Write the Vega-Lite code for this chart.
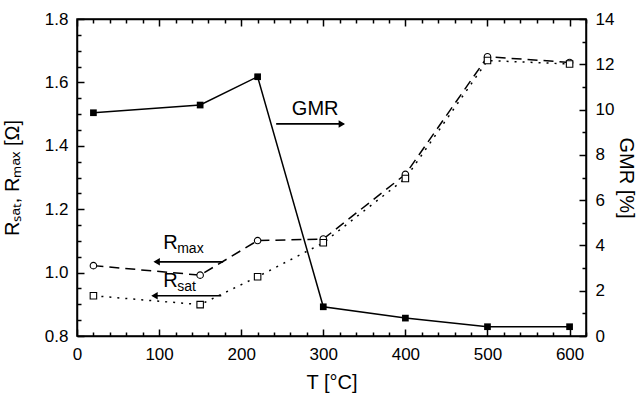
{
  "$schema": "https://vega.github.io/schema/vega-lite/v6.json",
  "width": 509,
  "height": 317,
  "autosize": "none",
  "padding": {"left": 77, "top": 19, "right": 51, "bottom": 62},
  "background": "white",
  "config": {
    "view": {"stroke": "black", "strokeWidth": 1.5},
    "axis": {
      "domainColor": "black", "domainWidth": 1.5, "ticks": true,
      "tickColor": "#000000", "tickWidth": 1.5, "tickSize": -7, "tickOpacity": 1,
      "labelColor": "black", "titleColor": "black",
      "labelFont": "Liberation Sans", "titleFont": "Liberation Sans",
      "labelFontSize": 17, "titleFontSize": 20, "titleFontWeight": "normal",
      "grid": false, "labelFlush": false, "labelOverlap": false
    }
  },
  "datasets": {
    "res": [
      {"T": 20, "val": 1.022, "series": "Rmax"},
      {"T": 150, "val": 0.992, "series": "Rmax"},
      {"T": 220, "val": 1.101, "series": "Rmax"},
      {"T": 300, "val": 1.106, "series": "Rmax"},
      {"T": 400, "val": 1.31, "series": "Rmax"},
      {"T": 500, "val": 1.681, "series": "Rmax"},
      {"T": 600, "val": 1.663, "series": "Rmax"},
      {"T": 20, "val": 0.927, "series": "Rsat"},
      {"T": 150, "val": 0.899, "series": "Rsat"},
      {"T": 220, "val": 0.987, "series": "Rsat"},
      {"T": 300, "val": 1.094, "series": "Rsat"},
      {"T": 400, "val": 1.297, "series": "Rsat"},
      {"T": 500, "val": 1.669, "series": "Rsat"},
      {"T": 600, "val": 1.658, "series": "Rsat"}
    ],
    "gmr": [
      {"T": 20, "GMR": 9.86},
      {"T": 150, "GMR": 10.2},
      {"T": 220, "GMR": 11.45},
      {"T": 300, "GMR": 1.29},
      {"T": 400, "GMR": 0.79},
      {"T": 500, "GMR": 0.41},
      {"T": 600, "GMR": 0.41}
    ],
    "txt": [
      {"T": 105, "val": 1.0735, "label": "R", "sub": "max"},
      {"T": 105, "val": 0.9536, "label": "R", "sub": "sat"},
      {"T": 261.7, "val": 1.497, "label": "GMR", "sub": ""}
    ],
    "arr": [
      {"T": 178, "T2": 95, "val": 1.034},
      {"T": 175.7, "T2": 92.4, "val": 0.927},
      {"T": 242.6, "T2": 324.6, "val": 1.469}
    ],
    "heads": [
      {"T": 97, "val": 1.034, "head": "left"},
      {"T": 94.4, "val": 0.927, "head": "left"},
      {"T": 322.6, "val": 1.469, "head": "right"}
    ]
  },
  "layer": [
    {
      "encoding": {
        "x": {
          "field": "T", "type": "quantitative",
          "scale": {"domain": [0, 620], "nice": false},
          "axis": {
            "orient": "bottom", "title": "T  [°C]", "titlePadding": 10,
            "values": [0,20,40,60,80,100,120,140,160,180,200,220,240,260,280,300,320,340,360,380,400,420,440,460,480,500,520,540,560,580,600,620],
            "labelExpr": "datum.value % 100 === 0 ? datum.label : ''",
            "tickDash": {"condition": {"test": "datum.value % 100 === 0", "value": [7, 0]}, "value": [4, 20]},
            "labelPadding": 17, "zindex": 1
          }
        },
        "y": {
          "field": "val", "type": "quantitative",
          "scale": {"domain": [0.8, 1.8], "nice": false, "zero": false},
          "axis": {
            "orient": "left", "title": "Rₛₐₜ, Rₘₐₓ  [Ω]", "titlePadding": 22,
            "values": [0.8,0.85,0.9,0.95,1.0,1.05,1.1,1.15,1.2,1.25,1.3,1.35,1.4,1.45,1.5,1.55,1.6,1.65,1.7,1.75,1.8],
            "format": ".1f",
            "labelExpr": "abs(datum.value*5 - round(datum.value*5)) < 0.001 ? datum.label : ''",
            "tickDash": {"condition": {"test": "abs(datum.value*5 - round(datum.value*5)) < 0.001", "value": [7, 0]}, "value": [4, 20]},
            "labelPadding": 16, "zindex": 1
          }
        }
      },
      "layer": [
        {
          "data": {"name": "res"},
          "mark": {"type": "line", "color": "black", "strokeWidth": 1.5},
          "encoding": {
            "strokeDash": {"field": "series", "type": "nominal", "scale": {"domain": ["Rmax", "Rsat"], "range": [[10, 6], [2, 6]]}, "legend": null}
          }
        },
        {
          "data": {"name": "res"},
          "mark": {"type": "point", "filled": true, "fill": "white", "stroke": "black", "strokeWidth": 1.1, "size": 42, "opacity": 1},
          "encoding": {
            "shape": {"field": "series", "type": "nominal", "scale": {"domain": ["Rmax", "Rsat"], "range": ["circle", "square"]}, "legend": null}
          }
        },
        {
          "data": {"name": "arr"},
          "mark": {"type": "rule", "color": "black", "strokeWidth": 1.7},
          "encoding": {"x2": {"field": "T2"}}
        },
        {
          "data": {"name": "heads"},
          "transform": [{"filter": "datum.head === 'left'"}],
          "mark": {"type": "point", "shape": "triangle-left", "filled": true, "color": "black", "size": 55, "opacity": 1}
        },
        {
          "data": {"name": "heads"},
          "transform": [{"filter": "datum.head === 'right'"}],
          "mark": {"type": "point", "shape": "triangle-right", "filled": true, "color": "black", "size": 55, "opacity": 1}
        },
        {
          "data": {"name": "txt"},
          "mark": {"type": "text", "align": "left", "baseline": "alphabetic", "font": "Liberation Sans", "fontSize": 20, "color": "black"},
          "encoding": {"text": {"field": "label"}}
        },
        {
          "data": {"name": "txt"},
          "mark": {"type": "text", "align": "left", "baseline": "alphabetic", "font": "Liberation Sans", "fontSize": 14, "color": "black", "dx": 14, "dy": 4},
          "encoding": {"text": {"field": "sub"}}
        }
      ]
    },
    {
      "data": {"name": "gmr"},
      "encoding": {
        "x": {
          "field": "T", "type": "quantitative",
          "scale": {"domain": [0, 620], "nice": false},
          "axis": {
            "orient": "top", "title": null, "labels": false, "ticks": true,
            "values": [0,20,40,60,80,100,120,140,160,180,200,220,240,260,280,300,320,340,360,380,400,420,440,460,480,500,520,540,560,580,600,620],
            "tickDash": {"condition": {"test": "datum.value % 100 === 0", "value": [7, 0]}, "value": [4, 20]},
            "zindex": 1
          }
        },
        "y": {
          "field": "GMR", "type": "quantitative",
          "scale": {"domain": [0, 14], "nice": false},
          "axis": {
            "orient": "right", "title": "GMR  [%]", "titlePadding": 2,
            "values": [0,1,2,3,4,5,6,7,8,9,10,11,12,13,14],
            "labelExpr": "datum.value % 2 === 0 ? datum.label : ''",
            "tickDash": {"condition": {"test": "datum.value % 2 === 0", "value": [7, 0]}, "value": [4, 20]},
            "labelPadding": 16, "zindex": 1
          }
        }
      },
      "layer": [
        {"mark": {"type": "line", "color": "black", "strokeWidth": 1.5}},
        {"mark": {"type": "square", "color": "black", "size": 45, "opacity": 1}}
      ]
    }
  ],
  "resolve": {"scale": {"y": "independent"}, "axis": {"x": "independent", "y": "independent"}}
}
